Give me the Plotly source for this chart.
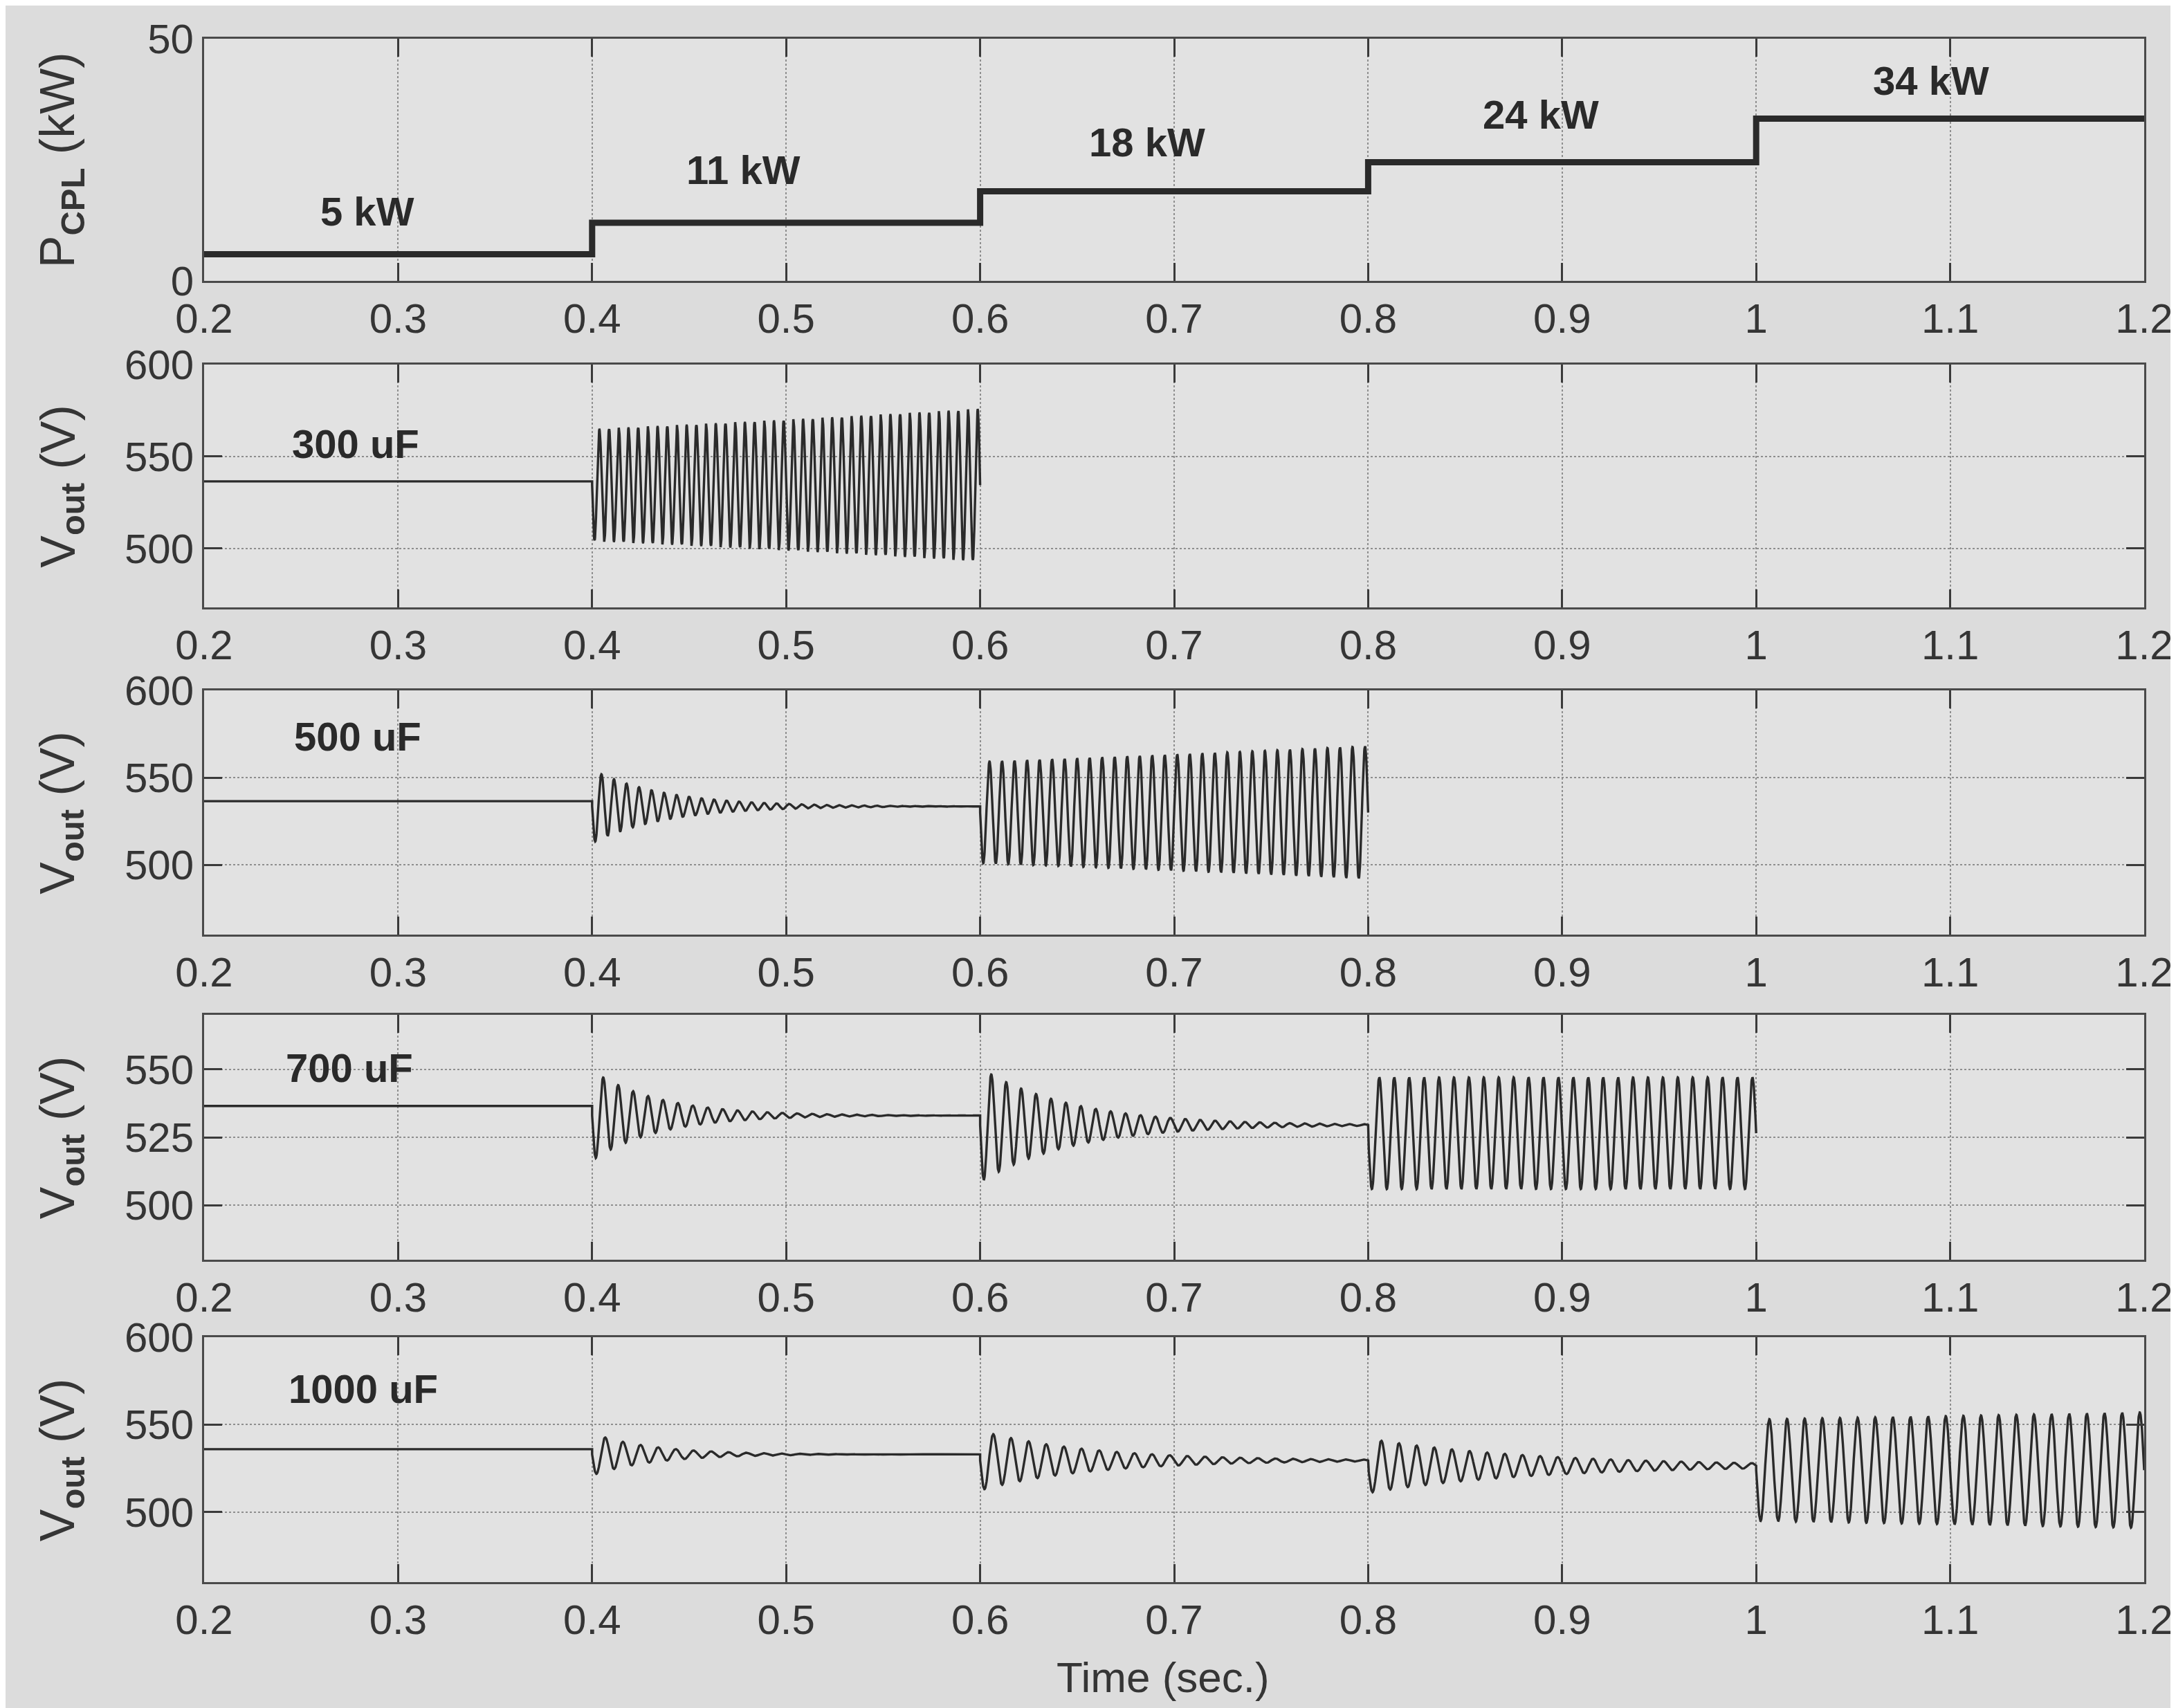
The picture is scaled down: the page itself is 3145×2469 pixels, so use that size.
import numpy as np
import plotly.graph_objects as go

# ---------------- data ----------------
time_ticks = [0.2, 0.3, 0.4, 0.5, 0.6, 0.7, 0.8, 0.9, 1.0, 1.1, 1.2]
time_tick_text = ["0.2", "0.3", "0.4", "0.5", "0.6", "0.7", "0.8", "0.9", "1", "1.1", "1.2"]

# CPL power steps
p_step_times = [0.2, 0.4, 0.6, 0.8, 1.0, 1.2]
p_levels_kw = [5.5, 12.0, 18.5, 24.5, 33.5]
p_labels = ["5 kW", "11 kW", "18 kW", "24 kW", "34 kW"]
p_label_x = [0.284, 0.478, 0.686, 0.889, 1.09]
p_label_y = [14.3, 22.9, 28.6, 34.3, 41.4]

# Vout segments per capacitor: boundary times, settled level, oscillation
# amplitude at segment start and at segment end, oscillation frequency (Hz)
c300_t = [0.2, 0.4, 0.6]
c300_level = [536.5, 534.5]
c300_amp0 = [0.0, 30.0]
c300_amp1 = [0.0, 41.0]
c300_freq = 200.0

c500_t = [0.2, 0.4, 0.6, 0.8]
c500_level = [536.5, 533.5, 530.0]
c500_amp0 = [0.0, 21.0, 29.0]
c500_amp1 = [0.0, 0.1, 38.0]
c500_freq = 155.0

c700_t = [0.2, 0.4, 0.6, 0.8, 1.0]
c700_level = [536.5, 533.0, 529.5, 526.5]
c700_amp0 = [0.0, 16.5, 21.0, 20.5]
c700_amp1 = [0.0, 0.05, 0.3, 20.5]
c700_freq = 130.0

c1000_t = [0.2, 0.4, 0.6, 0.8, 1.0, 1.2]
c1000_level = [536.0, 533.0, 529.5, 526.5, 524.0]
c1000_amp0 = [0.0, 12.0, 17.0, 15.5, 29.0]
c1000_amp1 = [0.0, 0.02, 0.5, 1.5, 33.0]
c1000_freq = 110.0

panel_labels = ["300 uF", "500 uF", "700 uF", "1000 uF"]
panel_label_x = [0.278, 0.279, 0.275, 0.282]
panel_label_y = [557, 573.5, 550.5, 570.5]

v_ranges = [[468, 600], [460, 600], [480, 570], [460, 600]]
v_ticks = [[500, 550, 600], [500, 550, 600], [500, 525, 550], [500, 550, 600]]


def build_wave(tb, level, a0, a1, freq, dt=0.0001):
    ts, vs = [], []
    for i in range(len(level)):
        t0, t1 = tb[i], tb[i + 1]
        t = np.arange(t0, t1 + dt / 2, dt)
        if a0[i] == 0:
            v = np.full_like(t, level[i])
        else:
            frac = (t - t0) / (t1 - t0)
            env = a0[i] * (a1[i] / a0[i]) ** frac
            v = level[i] - env * np.sin(2 * np.pi * freq * (t - t0))
        ts.append(t)
        vs.append(v)
    return np.concatenate(ts), np.concatenate(vs)


waves = [
    build_wave(c300_t, c300_level, c300_amp0, c300_amp1, c300_freq),
    build_wave(c500_t, c500_level, c500_amp0, c500_amp1, c500_freq),
    build_wave(c700_t, c700_level, c700_amp0, c700_amp1, c700_freq),
    build_wave(c1000_t, c1000_level, c1000_amp0, c1000_amp1, c1000_freq),
]

# ---------------- figure ----------------
W, H = 3145, 2469
ML, MR, MT, MB = 287, 50, 48, 190
plot_h = H - MT - MB
panel_px = [(48, 398), (519, 870), (990, 1343), (1459, 1813), (1925, 2279)]
domains = [[(2279 - b) / plot_h, (2279 - a) / plot_h] for a, b in panel_px]
domains[0][1] = 1.0
domains[4][0] = 0.0

FONT = "Liberation Sans, Arial, sans-serif"
TXT = "#353535"
LINE = "#2a2a2a"
GRID = "#8e8e8e"

fig = go.Figure()

fig.add_trace(go.Scatter(
    x=p_step_times, y=p_levels_kw + [p_levels_kw[-1]],
    mode="lines", line=dict(color=LINE, width=9, shape="hv"),
    xaxis="x", yaxis="y", showlegend=False))

for k, (tt, vv) in enumerate(waves):
    n = k + 2
    fig.add_trace(go.Scatter(
        x=tt, y=vv, mode="lines", line=dict(color=LINE, width=3.4),
        xaxis=f"x{n}", yaxis=f"y{n}", showlegend=False))

layout = dict(
    width=W, height=H,
    margin=dict(l=ML, r=MR, t=MT, b=MB),
    paper_bgcolor="#dcdcdc", plot_bgcolor="#e2e2e2",
    font=dict(family=FONT, size=60, color=TXT),
    showlegend=False,
)

axis_common = dict(
    showline=True, linecolor="#4a4a4a", linewidth=3, mirror="ticks",
    ticks="inside", ticklen=26, tickwidth=3, tickcolor="#3a3a3a",
    showgrid=True, gridcolor=GRID, griddash="dot", gridwidth=2,
    zeroline=False, tickfont=dict(family=FONT, size=60, color=TXT),
)

for i in range(5):
    n = i + 1
    xs = "xaxis" if n == 1 else f"xaxis{n}"
    ys = "yaxis" if n == 1 else f"yaxis{n}"
    layout[xs] = dict(axis_common, range=[0.2, 1.2], domain=[0, 1],
                      tickvals=time_ticks, ticktext=time_tick_text,
                      anchor="y" if n == 1 else f"y{n}")
    if i == 0:
        layout[ys] = dict(axis_common, range=[0, 50], tickvals=[0, 50],
                          domain=domains[i], anchor="x")
    else:
        layout[ys] = dict(axis_common, range=v_ranges[i - 1], tickvals=v_ticks[i - 1],
                          domain=domains[i], anchor=f"x{n}")

annotations = []
for lab, lx, ly in zip(p_labels, p_label_x, p_label_y):
    annotations.append(dict(text=f"<b>{lab}</b>", x=lx, y=ly, xref="x", yref="y",
                            xanchor="center", yanchor="middle",
                            showarrow=False, font=dict(size=58, color="#2a2a2a")))
for k, (lab, lx, ly) in enumerate(zip(panel_labels, panel_label_x, panel_label_y)):
    n = k + 2
    annotations.append(dict(text=f"<b>{lab}</b>", x=lx, y=ly, xref=f"x{n}", yref=f"y{n}",
                            xanchor="center", yanchor="middle",
                            showarrow=False, font=dict(size=58, color="#2a2a2a")))

title_x = (80 - ML) / (W - ML - MR)
annotations.append(dict(text="P<sub><b>CPL</b></sub> (kW)", x=title_x, y=sum(domains[0]) / 2,
                        xref="paper", yref="paper", textangle=-90, showarrow=False,
                        xanchor="center", yanchor="middle",
                        font=dict(size=70, color=TXT)))
for i in range(1, 5):
    annotations.append(dict(text="V<sub><b>out</b></sub> (V)", x=title_x, y=sum(domains[i]) / 2,
                            xref="paper", yref="paper", textangle=-90, showarrow=False,
                            xanchor="center", yanchor="middle",
                            font=dict(size=70, color=TXT)))
annotations.append(dict(text="Time (sec.)", x=(1675 - ML) / (W - ML - MR),
                        y=-(2416 - 2279) / plot_h,
                        xref="paper", yref="paper", showarrow=False,
                        xanchor="center", yanchor="middle",
                        font=dict(size=62, color=TXT)))
layout["annotations"] = annotations

fig.update_layout(**layout)
fig.write_html("out.html")
